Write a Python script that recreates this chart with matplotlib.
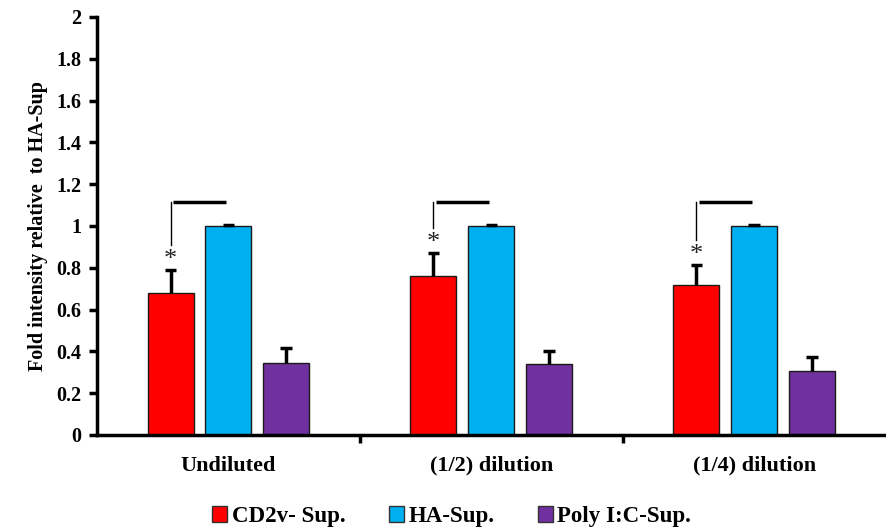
import numpy as np
import matplotlib
matplotlib.use('Agg')
import matplotlib.pyplot as plt
from matplotlib.patches import Patch

groups = ['Undiluted', '(1/2) dilution', '(1/4) dilution']
series = ['CD2v- Sup.', 'HA-Sup.', 'Poly I:C-Sup.']
cd2v = [0.68, 0.76, 0.715]
cd2v_err = [0.11, 0.11, 0.10]
ha = [1.0, 1.0, 1.0]
ha_err = [0.005, 0.005, 0.005]
polyic = [0.345, 0.34, 0.305]
polyic_err = [0.07, 0.06, 0.07]
colors = ['#FF0000', '#00B0F0', '#7030A0']

plt.rcParams['font.family'] = ['Liberation Serif', 'DejaVu Serif']
plt.rcParams['font.weight'] = 'bold'

fig = plt.figure(figsize=(8.86, 5.31), dpi=100)
ax = fig.add_axes([0.1095, 0.181, 0.89, 0.787])

x = np.arange(len(groups))
w = 0.175
step = 0.22
for i, (vals, errs) in enumerate([(cd2v, cd2v_err), (ha, ha_err), (polyic, polyic_err)]):
    xs = x + (i - 1) * step
    vals = np.array(vals)
    errs = np.array(errs)
    ax.bar(xs, vals, w, color=colors[i], edgecolor='#1a1a1a', linewidth=1.0, zorder=2)
    # upper-only error bars
    ax.vlines(xs, vals, vals + errs, color='black', lw=2.5, zorder=3)
    ax.hlines(vals + errs, xs - 0.022, xs + 0.022, color='black', lw=2.5, zorder=3)

# significance markers
for g in range(len(groups)):
    xr = x[g] - step
    ytop = cd2v[g] + cd2v_err[g]
    ax.text(xr, ytop - 0.005, '*', ha='center', va='bottom', fontsize=19, fontweight='normal', color='#222222')
    ax.plot([xr, xr], [ytop + 0.12, 1.115], color='black', lw=1.0)
    ax.plot([xr + 0.01, xr + 0.21], [1.115, 1.115], color='black', lw=2.5, solid_capstyle='butt')

ax.set_xlim(-0.5, 2.5)
ax.set_ylim(0, 2)
ax.set_yticks(np.arange(0, 2.01, 0.2))
ax.set_yticklabels(['0', '0.2', '0.4', '0.6', '0.8', '1', '1.2', '1.4', '1.6', '1.8', '2'])
ax.set_xticks(x)
ax.set_xticklabels(groups)
ax.set_xticks([0.5, 1.5], minor=True)
ax.tick_params(axis='x', which='major', length=0, pad=15, labelsize=16)
ax.tick_params(axis='x', which='minor', length=6, width=2.5, direction='out')
ax.tick_params(axis='y', length=6, width=2.5, direction='out', labelsize=14.5, pad=5)
for lbl in ax.get_xticklabels() + ax.get_yticklabels():
    lbl.set_fontweight('bold')

for s in ['top', 'right']:
    ax.spines[s].set_visible(False)
for s in ['left', 'bottom']:
    ax.spines[s].set_linewidth(2.5)

ax.set_ylabel('Fold intensity relative  to HA-Sup', fontsize=14.5, fontweight='bold', labelpad=6)

handles = [Patch(facecolor=c, edgecolor='#333333', linewidth=1.0) for c in colors]
fig.legend(handles, series, loc='center', bbox_to_anchor=(0.51, 0.027), ncol=3, frameon=False,
           handlelength=0.65, handleheight=0.65, handletextpad=0.2, columnspacing=1.9,
           prop={'weight': 'bold', 'size': 16.5})

fig.savefig('out.png', dpi=100)
